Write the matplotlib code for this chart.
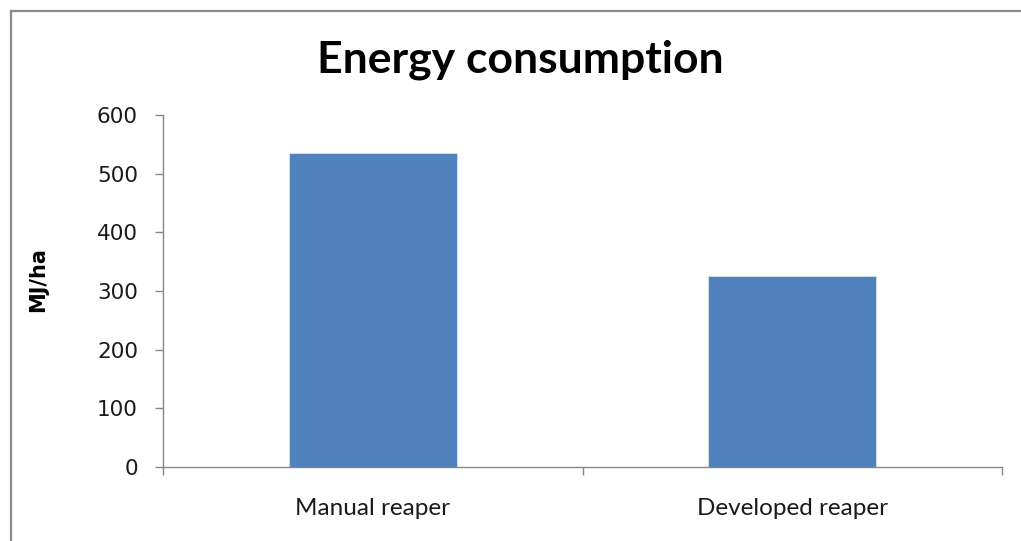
import numpy as np
import matplotlib.pyplot as plt
from matplotlib.lines import Line2D

categories = ['Manual reaper', 'Developed reaper']
energy = [535, 325]   # MJ/ha
yticks = [0, 100, 200, 300, 400, 500, 600]

W, H = 1021, 541
fig = plt.figure(figsize=(W / 100, H / 100), dpi=100)

# outer chart frame: only its left and top edges are inside the picture
frame = dict(transform=fig.transFigure, color='#8c8c8c', linewidth=1.6)
fig.lines.append(Line2D([10.5 / W, 10.5 / W], [0, 1 - 10.5 / H], **frame))
fig.lines.append(Line2D([10.5 / W, 1], [1 - 10.5 / H, 1 - 10.5 / H], **frame))

ax = fig.add_axes([163 / W, (H - 467) / H, (1002 - 163) / W, (467 - 115) / H])
x = np.arange(len(categories))
ax.bar(x, energy, width=0.4, color='#4f81bd', edgecolor='#d9e3f0', linewidth=0.6)

ax.set_xlim(-0.5, len(categories) - 0.5)
ax.set_ylim(0, 600)
ax.set_yticks(yticks)
ax.set_yticklabels([str(v) for v in yticks], fontsize=15.5, family='DejaVu Sans',
                   color='#1a1a1a')

# category ticks sit on the boundaries, labels in the middle
ax.set_xticks(np.arange(len(categories) + 1) - 0.5)
ax.set_xticklabels([])
ax.set_xticks(x, minor=True)
ax.set_xticklabels(categories, minor=True, fontsize=17.5, family='Lato',
                   color='#1a1a1a')
ax.tick_params(axis='x', which='minor', length=0, pad=22)
ax.tick_params(axis='both', which='major', length=6, color='#868686', width=1)
ax.tick_params(axis='y', pad=12)

for s in ['top', 'right']:
    ax.spines[s].set_visible(False)
for s in ['left', 'bottom']:
    ax.spines[s].set_color('#868686')
    ax.spines[s].set_linewidth(1)

fig.text(38 / W, 1 - 280 / H, 'MJ/ha', rotation=90, ha='center', va='center',
         fontsize=15, fontweight='bold', family='DejaVu Sans')
fig.text(520 / W, 1 - 72 / H, 'Energy consumption', ha='center', va='baseline',
         fontsize=32, fontweight='bold', family='Lato')

fig.savefig('out.png', dpi=100)
